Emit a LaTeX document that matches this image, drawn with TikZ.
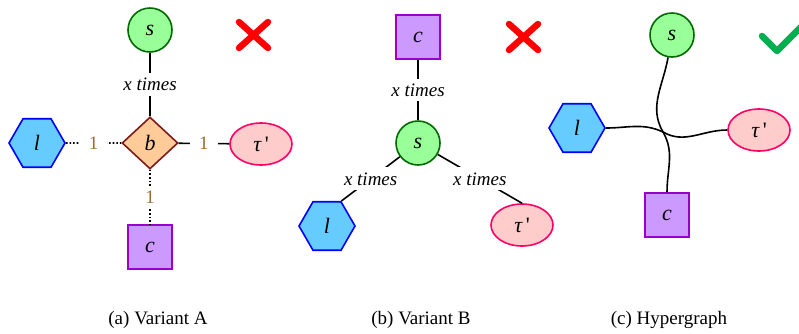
\documentclass[tikz,border=0pt]{standalone}
\usepackage{fontspec}
\setmainfont{Liberation Serif}
\usetikzlibrary{shapes.geometric}
\definecolor{sfill}{HTML}{99FF99}
\definecolor{sdraw}{HTML}{006A00}
\definecolor{bfill}{HTML}{FFCC99}
\definecolor{bdraw}{HTML}{7F1A1A}
\definecolor{lfill}{HTML}{66CCFF}
\definecolor{ldraw}{HTML}{0000FF}
\definecolor{tfill}{HTML}{FFCCCC}
\definecolor{tdraw}{HTML}{FF0066}
\definecolor{cfill}{HTML}{CC99FF}
\definecolor{cdraw}{HTML}{9900CC}
\definecolor{onecol}{HTML}{9C6B30}
\definecolor{xred}{HTML}{FF0000}
\definecolor{okgreen}{HTML}{00B050}
\tikzset{
  base/.style={line width=1.6pt, inner sep=0pt, font=\fontsize{22}{22}\selectfont\itshape},
  snode/.style={base, circle, draw=sdraw, fill=sfill, minimum size=44pt},
  bnode/.style={base, diamond, draw=bdraw, fill=bfill, minimum width=56pt, minimum height=52pt},
  lnode/.style={base, regular polygon, regular polygon sides=6, draw=ldraw, fill=lfill, minimum size=56pt},
  tnode/.style={base, ellipse, draw=tdraw, fill=tfill, minimum width=62pt, minimum height=42pt},
  cnode/.style={base, rectangle, draw=cdraw, fill=cfill, minimum size=44pt},
  edge/.style={line width=1.6pt, black},
  dotedge/.style={line width=1.6pt, black, dotted},
  lab/.style={fill=white, inner xsep=1pt, inner ysep=5pt, font=\fontsize{19}{19}\selectfont\itshape},
  onelab/.style={fill=white, inner xsep=9pt, inner ysep=4pt, text=onecol, font=\fontsize{19}{19}\selectfont},
  captext/.style={font=\fontsize{19}{19}\selectfont},
  crossmark/.style={line width=6.5pt, xred, line cap=round},
  tickmark/.style={line width=6.5pt, okgreen, line cap=round, line join=round}
}
\newcommand{\taup}{τ\,{\upshape\textquotesingle}}
\begin{document}
\begin{tikzpicture}[x=1pt,y=-1pt]
\useasboundingbox (0,0) rectangle (799,333);
% ---------- (a) Variant A ----------
\node[snode] (as) at (150,30) {s};
\node[bnode] (ab) at (150,143) {b};
\node[lnode] (al) at (37,143) {l};
\node[tnode] (at) at (261,144) {\taup};
\node[cnode] (ac) at (150,247) {c};
\draw[edge] (as) -- node[lab] {x times} (ab);
\draw[dotedge] (al) -- node[onelab] {1} (ab);
\draw[edge] (ab) -- node[onelab] {1} (at);
\draw[dotedge] (ab) -- node[onelab, inner xsep=3pt] {1} (ac);
\draw[crossmark] (239,22) -- (268,48);
\draw[crossmark] (239,48) -- (268,22);
\node[captext] (capa) at (158,320) {(a) Variant A};
% ---------- (b) Variant B ----------
\node[cnode] (bc) at (418,37) {c};
\node[snode] (bs) at (418,143) {s};
\node[lnode] (bl) at (327,226) {l};
\node[tnode] (bt) at (522,225) {\taup};
\draw[edge] (bc) -- node[lab] {x times} (bs);
\draw[edge] (bs) -- node[lab] {x times} (bl.60);
\draw[edge] (bs) -- node[lab] {x times} (bt.north);
\draw[crossmark] (509,24) -- (538,50);
\draw[crossmark] (509,50) -- (538,24);
\node[captext] (capb) at (421,320) {(b) Variant B};
% ---------- (c) Hypergraph ----------
\node[snode] (cs) at (672,35) {s};
\node[lnode] (cl) at (577,128) {l};
\node[tnode] (ct) at (759,130) {\taup};
\node[cnode] (cc) at (667,215) {c};
\coordinate (hub) at (663,132);
\draw[edge] (cl.east) to[out=0, in=155] (hub);
\draw[edge] (cs.-100) to[out=-100, in=120] (hub);
\draw[edge] (hub) to[out=-30, in=180] (ct.west);
\draw[edge] (hub) to[out=-60, in=90] (cc.north);
\draw[tickmark] (762,36) -- (777,51) -- (806,22);
\node[captext] (capc) at (669,320) {(c) Hypergraph};
\end{tikzpicture}
\end{document}
